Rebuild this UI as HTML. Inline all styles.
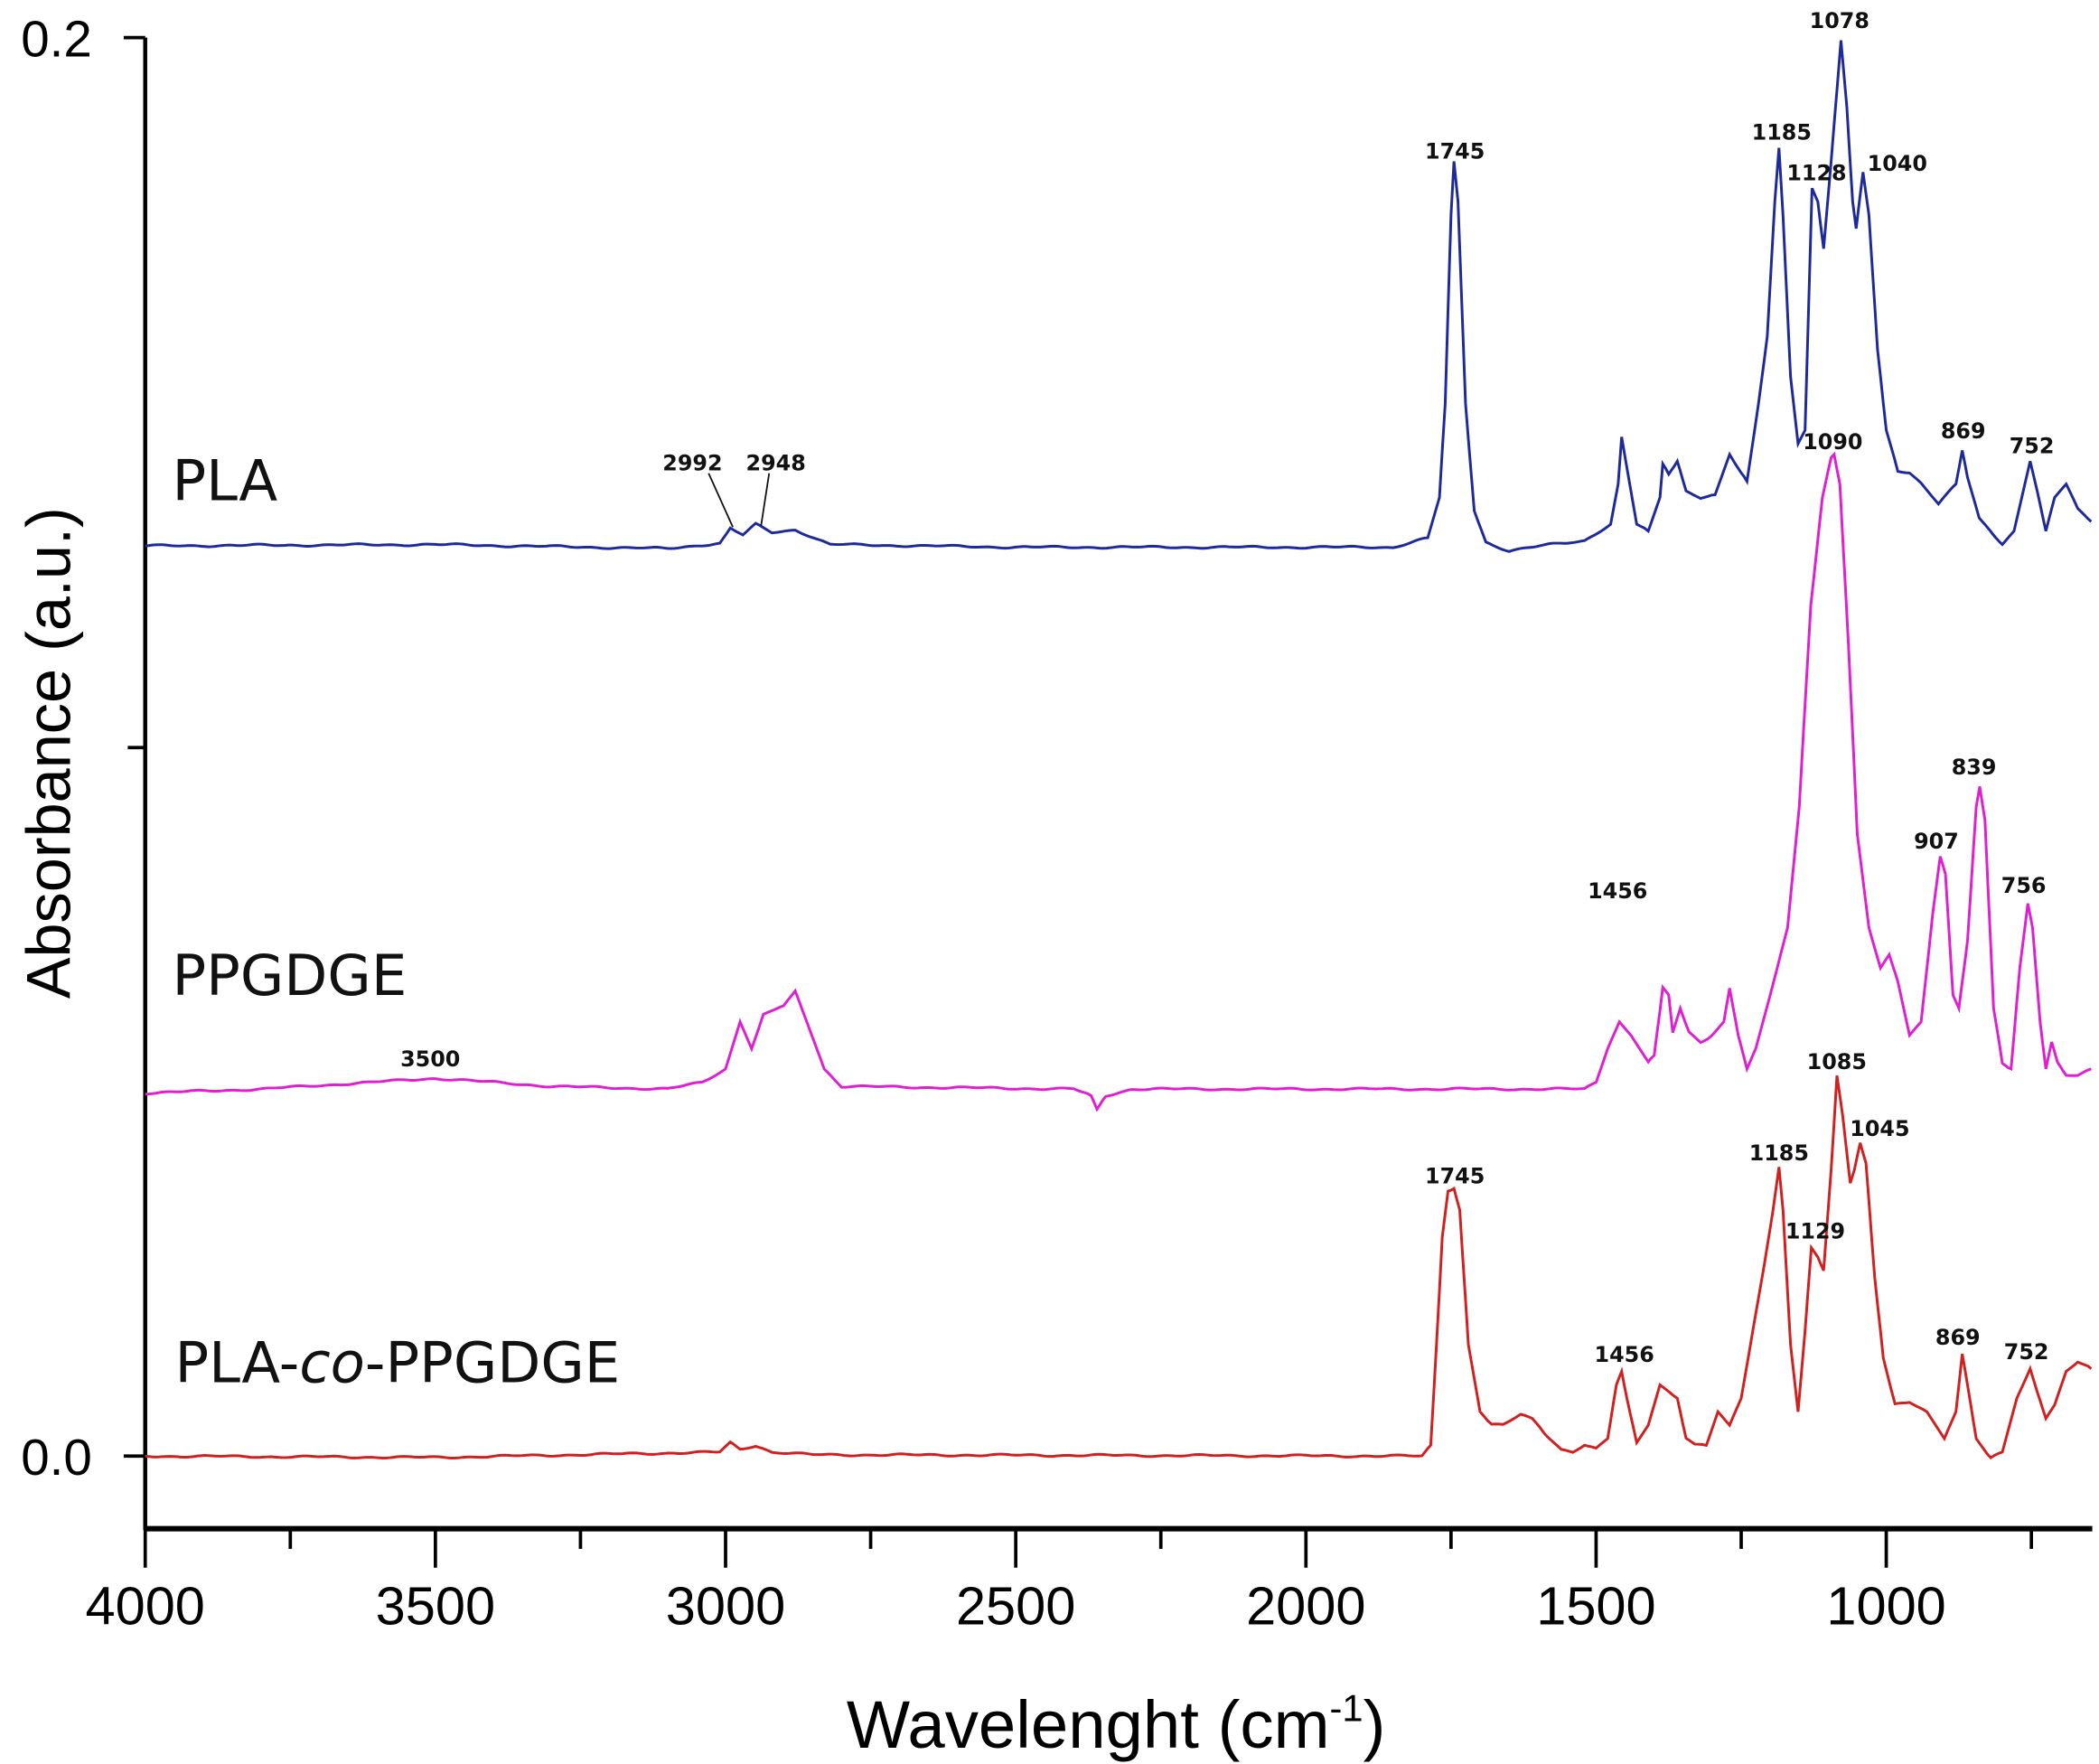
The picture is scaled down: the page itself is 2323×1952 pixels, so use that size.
<!DOCTYPE html>
<html><head><meta charset="utf-8"><style>
html,body{margin:0;padding:0;background:#fff;}
svg{display:block;}
text{font-family:"Liberation Sans",Arial,sans-serif;}
.pk{font-family:"DejaVu Sans","Liberation Sans",sans-serif;font-weight:bold;font-size:16px;fill:#111;text-anchor:middle;}
.tl{font-size:40px;fill:#000;text-anchor:middle;}
.nm{font-family:"DejaVu Sans","Liberation Sans",sans-serif;font-size:42px;fill:#111;}
</style></head><body>
<svg id="s" width="2323" height="1952" viewBox="0 0 1561 1312" preserveAspectRatio="none" xmlns="http://www.w3.org/2000/svg">
<g stroke="#000" fill="none">
<line x1="108" y1="28" x2="108" y2="1138" stroke-width="3"/>
<line x1="107" y1="1137" x2="1556" y2="1137" stroke-width="4"/>
<line x1="92" y1="28" x2="108" y2="28" stroke-width="2.5"/>
<line x1="95" y1="556" x2="108" y2="556" stroke-width="2.5"/>
<line x1="92" y1="1083" x2="108" y2="1083" stroke-width="2.5"/>
<g id="xt" stroke-width="2.5"></g>
</g>
<text x="42" y="42" style="font-size:38px" text-anchor="middle">0.2</text>
<text x="42" y="1097" style="font-size:38px" text-anchor="middle">0.0</text>
<g id="xl"></g>
<text x="830" y="1300" style="font-size:50px" text-anchor="middle">Wavelenght (cm<tspan dy="-20" style="font-size:28px">-1</tspan><tspan dy="20">)</tspan></text>
<text transform="translate(52,560) rotate(-90)" style="font-size:46px" text-anchor="middle">Absorbance (a.u.)</text>
<path id="p1" fill="none" stroke="#1f2a9a" stroke-width="2"/>
<path id="p2" fill="none" stroke="#e020d0" stroke-width="2"/>
<path id="p3" fill="none" stroke="#d02020" stroke-width="2"/>
<text class="nm" x="128" y="372">PLA</text>
<text class="nm" x="128" y="740">PPGDGE</text>
<text class="nm" x="130" y="1028">PLA-<tspan font-style="italic">co</tspan>-PPGDGE</text>
<g stroke="#111" stroke-width="1.2"><line x1="527" y1="352" x2="545" y2="392"/><line x1="572" y1="352" x2="566" y2="391"/></g>
<text class="pk" x="1368" y="21">1078</text>
<text class="pk" x="1082" y="118">1745</text>
<text class="pk" x="1325" y="104">1185</text>
<text class="pk" x="1351" y="134">1128</text>
<text class="pk" x="1411" y="127">1040</text>
<text class="pk" x="1460" y="326">869</text>
<text class="pk" x="1511" y="337">752</text>
<text class="pk" x="515" y="350">2992</text>
<text class="pk" x="577" y="350">2948</text>
<text class="pk" x="1363" y="334">1090</text>
<text class="pk" x="1468" y="576">839</text>
<text class="pk" x="1440" y="631">907</text>
<text class="pk" x="1203" y="668">1456</text>
<text class="pk" x="1505" y="664">756</text>
<text class="pk" x="320" y="793">3500</text>
<text class="pk" x="1366" y="795">1085</text>
<text class="pk" x="1398" y="845">1045</text>
<text class="pk" x="1323" y="863">1185</text>
<text class="pk" x="1082" y="880">1745</text>
<text class="pk" x="1350" y="921">1129</text>
<text class="pk" x="1208" y="1013">1456</text>
<text class="pk" x="1456" y="1000">869</text>
<text class="pk" x="1507" y="1011">752</text>
</svg>
<script>
function X(w){return 108+(4000-w)*0.4316;}
var ns="http://www.w3.org/2000/svg";
var xt=document.getElementById('xt'),xl=document.getElementById('xl');
for(var w=4000;w>=700;w-=250){var l=document.createElementNS(ns,'line');var x=X(w);l.setAttribute('x1',x);l.setAttribute('x2',x);l.setAttribute('y1',1137);l.setAttribute('y2',w%500==0?1166:1152);xt.appendChild(l);
if(w%500==0){var t=document.createElementNS(ns,'text');t.setAttribute('class','tl');t.setAttribute('x',x);t.setAttribute('y',1208);t.textContent=w;xl.appendChild(t);}}
function jitter(y,w,seed){return y+Math.sin(w*0.11+seed)*0.4+Math.sin(w*0.037+seed*2)*0.5;}
function mk(id,pts,seed){var out=[];for(var i=0;i<pts.length-1;i++){var a=pts[i],b=pts[i+1];var n=Math.max(1,Math.round((a[0]-b[0])/6));for(var k=0;k<n;k++){var w=a[0]+(b[0]-a[0])*k/n,y=a[1]+(b[1]-a[1])*k/n;var big=Math.abs(b[1]-a[1])/n>3;out.push(X(w).toFixed(1)+','+(big?y:jitter(y,w,seed)).toFixed(1));}}var L=pts[pts.length-1];out.push(X(L[0]).toFixed(1)+','+L[1]);document.getElementById(id).setAttribute('d','M'+out.join('L'));}
mk('p1',[[4000,406],[3500,405],[3100,408],[3010,404],[2992,393],[2970,398],[2948,390],[2920,396],[2880,394],[2820,405],[2500,407],[1850,407],[1790,400],[1770,370],[1760,300],[1750,160],[1745,120],[1738,150],[1725,300],[1710,380],[1690,403],[1650,410],[1580,405],[1520,402],[1475,390],[1462,360],[1456,325],[1448,345],[1430,390],[1410,395],[1390,370],[1385,345],[1375,352],[1360,343],[1345,365],[1320,370],[1295,368],[1270,338],[1250,352],[1240,358],[1220,300],[1205,250],[1192,150],[1185,110],[1178,160],[1165,280],[1152,330],[1140,320],[1128,140],[1118,150],[1108,185],[1095,120],[1078,30],[1068,80],[1058,150],[1052,170],[1040,128],[1030,160],[1015,260],[1000,320],[980,350],[960,352],[940,360],[910,375],[880,360],[869,335],[860,355],[840,385],[800,405],[780,395],[752,343],[740,365],[725,395],[710,370],[690,360],[670,378],[647,388]],1);
mk('p2',[[4000,813],[3800,810],[3500,802],[3300,808],[3100,810],[3040,805],[3000,795],[2975,760],[2955,780],[2935,755],[2900,748],[2880,737],[2860,760],[2830,795],[2800,808],[2400,810],[2370,815],[2360,825],[2345,815],[2300,810],[1520,810],[1500,805],[1480,780],[1460,760],[1440,770],[1410,790],[1400,785],[1385,735],[1375,740],[1368,768],[1355,750],[1340,768],[1320,775],[1300,770],[1280,760],[1270,735],[1255,770],[1240,795],[1225,780],[1200,740],[1170,690],[1150,600],[1130,450],[1110,370],[1095,340],[1090,338],[1080,360],[1065,480],[1050,620],[1030,690],[1010,720],[995,710],[980,730],[960,770],[940,760],[920,680],[907,637],[898,650],[885,740],[875,750],[860,700],[845,600],[839,585],[830,610],[815,750],[800,790],[785,795],[770,720],[756,672],[748,690],[735,760],[725,795],[715,775],[705,790],[690,800],[670,800],[647,795]],2);
mk('p3',[[4000,1083],[3500,1084],[3010,1080],[2992,1073],[2975,1078],[2948,1075],[2920,1080],[2850,1082],[1800,1083],[1785,1075],[1775,1000],[1765,920],[1755,885],[1745,884],[1735,900],[1720,1000],[1700,1050],[1680,1060],[1660,1060],[1630,1052],[1610,1055],[1590,1065],[1560,1078],[1540,1080],[1520,1075],[1500,1078],[1480,1070],[1465,1030],[1456,1020],[1447,1040],[1430,1073],[1410,1060],[1390,1030],[1375,1035],[1360,1040],[1345,1070],[1330,1075],[1310,1075],[1290,1050],[1270,1060],[1250,1040],[1230,990],[1210,940],[1195,900],[1185,868],[1178,900],[1165,1000],[1152,1050],[1140,990],[1129,928],[1118,935],[1108,945],[1095,870],[1085,800],[1075,830],[1062,880],[1055,870],[1045,850],[1035,865],[1020,950],[1005,1010],[985,1045],[960,1043],[930,1050],[900,1070],[880,1050],[869,1007],[860,1030],[845,1070],[820,1085],[800,1080],[775,1040],[752,1018],[740,1035],[725,1055],[710,1045],[690,1020],[670,1013],[647,1018]],3);
</script>
</body></html>
